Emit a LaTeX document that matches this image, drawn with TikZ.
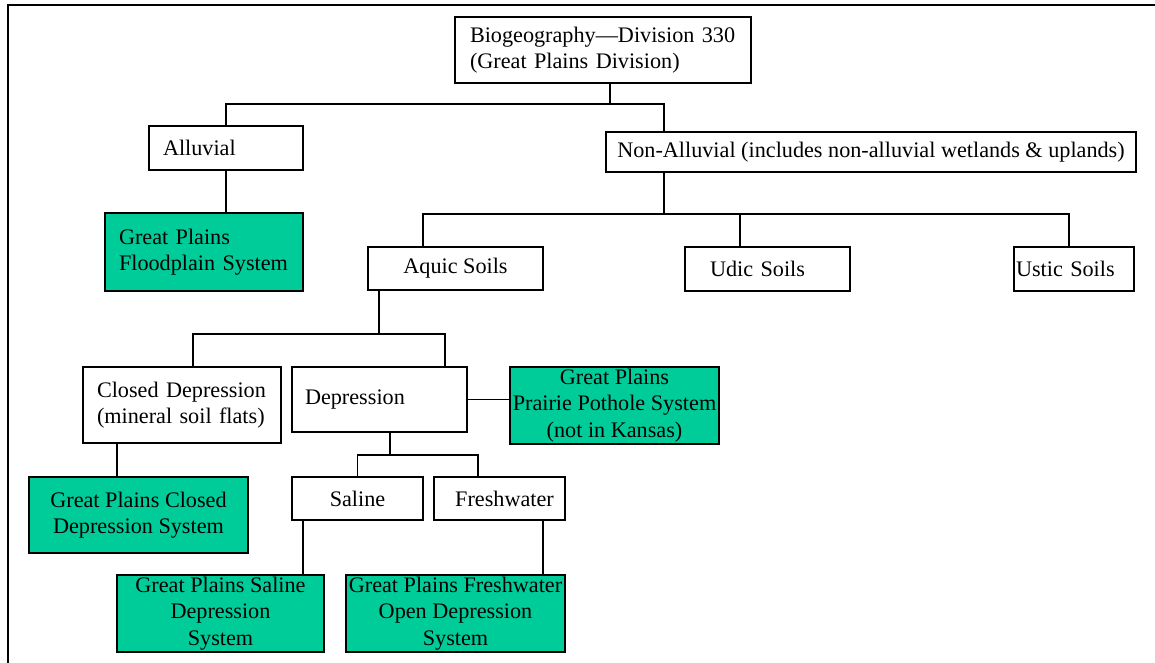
\documentclass[tikz,border=0pt]{standalone}
\usepackage{fontspec}
\setmainfont{Liberation Serif}
\usetikzlibrary{positioning}
\usepackage{xcolor}
\definecolor{PlainsGreen}{HTML}{00CC99}
\definecolor{LineBlack}{HTML}{000000}
\definecolor{BoxWhite}{HTML}{FFFFFF}
\tikzset{
    % Box styles
    catbox/.style={
        rectangle,
        draw=LineBlack,
        fill=BoxWhite,
        line width=0.6pt,
        inner xsep=0pt,
        inner ysep=0pt,
        align=center,
        font=\fontsize{11.1}{13.1}\selectfont
    },
    leftbox/.style={
        catbox,
        align=left
    },
    sysbox/.style={
        catbox,
        fill=PlainsGreen
    },
    % Connector styles
    link/.style={
        line width=0.6pt,
        draw=LineBlack
    },
    pageframe/.style={
        line width=1pt,
        draw=LineBlack
    }
}

\begin{document}
\begin{tikzpicture}[x=0.5pt, y=-0.5pt]
    \useasboundingbox (0,0) rectangle (1155,663);
    \draw[pageframe] (7.5,663) -- (7.5,5) -- (1155,5);

    % top level
    \node[leftbox, minimum width=148pt, minimum height=33pt, inner xsep=7.5pt, text width=133pt] (bio) at (603,50)
        {Biogeography---Division 330\\(Great Plains Division)};
    \node[leftbox, minimum width=77pt, minimum height=22pt, inner xsep=7pt, text width=63pt] (alluvial) at (226,148) {Alluvial};
    \node[catbox, minimum width=265pt, minimum height=20pt] (nonall) at (871,152)
        {Non-Alluvial (includes non-alluvial wetlands \& uplands)};
    \node[leftbox, fill=PlainsGreen, minimum width=99pt, minimum height=39pt, inner xsep=7pt, text width=85pt] (flood) at (204,252)
        {Great Plains\\Floodplain System};

    % soils
    \node[catbox, minimum width=87.5pt, minimum height=21.5pt] (aquic) at (455.5,268.5) {Aquic Soils};
    \node[leftbox, minimum width=82.5pt, minimum height=22pt, inner xsep=12.5pt, text width=57.5pt] (udic) at (767.5,269) {Udic Soils};
    \node[leftbox, minimum width=60pt, minimum height=22pt, inner xsep=1pt, text width=58pt] (ustic) at (1074,269) {Ustic Soils};

    % aquic branch
    \node[leftbox, minimum width=99pt, minimum height=38pt, inner xsep=7pt, text width=85pt] (closed) at (182,405)
        {Closed Depression\\(mineral soil flats)};
    \node[leftbox, minimum width=87.5pt, minimum height=32.5pt, inner xsep=6.5pt, text width=74.5pt] (depr) at (379.5,399.5) {Depression};
    \node[sysbox, minimum width=104.5pt, minimum height=38.5pt] (pothole) at (614.5,405.5)
        {Great Plains\\Prairie Pothole System\\(not in Kansas)};
    \node[sysbox, minimum width=109.5pt, minimum height=38pt] (closedsys) at (138.5,515)
        {Great Plains Closed\\Depression System};

    % depression branch
    \node[catbox, minimum width=65.5pt, minimum height=21.5pt] (saline) at (357.5,498.5) {Saline};
    \node[catbox, minimum width=65.5pt, minimum height=21.5pt] (fresh) at (499.5,498.5) {\hspace*{5pt}\raisebox{-2.5pt}{Freshwater}};
    \node[sysbox, minimum width=103.5pt, minimum height=38.5pt] (salinesys) at (220.5,613.5)
        {Great Plains Saline\\Depression\\System};
    \node[sysbox, minimum width=109.5pt, minimum height=38.5pt] (freshsys) at (455.5,613.5)
        {Great Plains Freshwater\\Open Depression\\System};

    % bus points
    \coordinate (top-bus) at (610,104);
    \coordinate (na-bus) at (664,214);
    \coordinate (aq-drop) at (423,214);
    \coordinate (ud-drop) at (740,214);
    \coordinate (us-drop) at (1069,214);
    \coordinate (aq-bus) at (379,334);
    \coordinate (cl-drop) at (193,334);
    \coordinate (de-drop) at (445,334);
    \coordinate (de-bus) at (390,455);
    \coordinate (fw-drop) at (478,455);
    \coordinate (cd-line) at (117,460);
    \coordinate (sa-line) at (303,548);
    \coordinate (fw-line) at (543,548);

    \draw[link] (bio.south -| top-bus) -- (top-bus);
    \draw[link] (alluvial.north) |- (top-bus) -| (nonall.north -| na-bus);
    \draw[link] (alluvial.south) -- (alluvial.south |- flood.north);
    \draw[link] (nonall.south -| na-bus) -- (na-bus);
    \draw[link] (aquic.north -| aq-drop) -- (aq-drop) -- (us-drop) -- (ustic.north -| us-drop);
    \draw[link] (ud-drop) -- (udic.north -| ud-drop);
    \draw[link] (aquic.south -| aq-bus) -- (aq-bus);
    \draw[link] (closed.north -| cl-drop) -- (cl-drop) -- (de-drop) -- (depr.north -| de-drop);
    \draw[link] (closed.south -| cd-line) -- (closedsys.north -| cd-line);
    \draw[link] (depr.east) -- (depr.east -| pothole.west);
    \draw[link] (depr.south -| de-bus) -- (de-bus);
    \draw[link] (saline.north) |- (de-bus) -| (fresh.north -| fw-drop);
    \draw[link] (saline.south -| sa-line) -- (salinesys.north -| sa-line);
    \draw[link] (fresh.south -| fw-line) -- (freshsys.north -| fw-line);
\end{tikzpicture}
\end{document}
